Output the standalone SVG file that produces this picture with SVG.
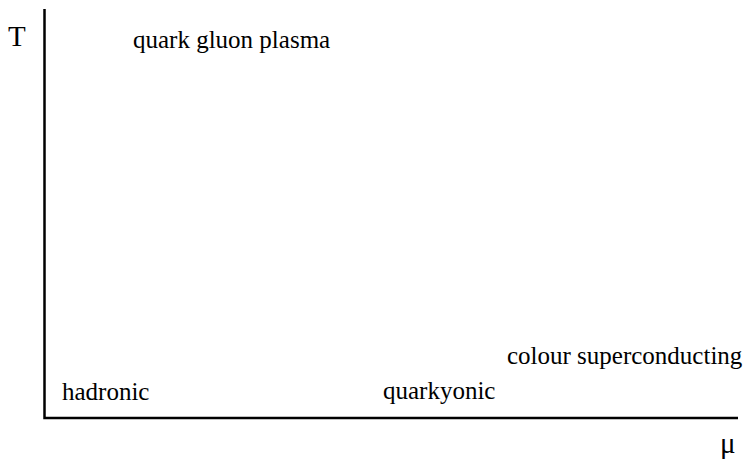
<svg xmlns="http://www.w3.org/2000/svg" width="746" height="460" viewBox="0 0 746 460">
<style>
.lbl{font-size:25px}
.ax{font-size:29px}
.axis{stroke:#000;stroke-width:2.5;fill:none}
</style>
<rect width="746" height="460" fill="#fff"/>
<g id="connectors">
<path class="axis" d="M44.5,9 V418 H738"/>
</g>
<g font-family="Liberation Serif" fill="#000">
<g id="axis-T"><text class="ax" x="8" y="46">T</text></g>
<g id="axis-mu"><text class="ax" x="720" y="453">μ</text></g>
<g id="qgp"><text class="lbl" x="133" y="48">quark gluon plasma</text></g>
<g id="hadronic"><text class="lbl" x="62" y="400">hadronic</text></g>
<g id="quarkyonic"><text class="lbl" x="383" y="399">quarkyonic</text></g>
<g id="colour"><text class="lbl" x="507" y="364">colour superconducting</text></g>
</g>
</svg>
